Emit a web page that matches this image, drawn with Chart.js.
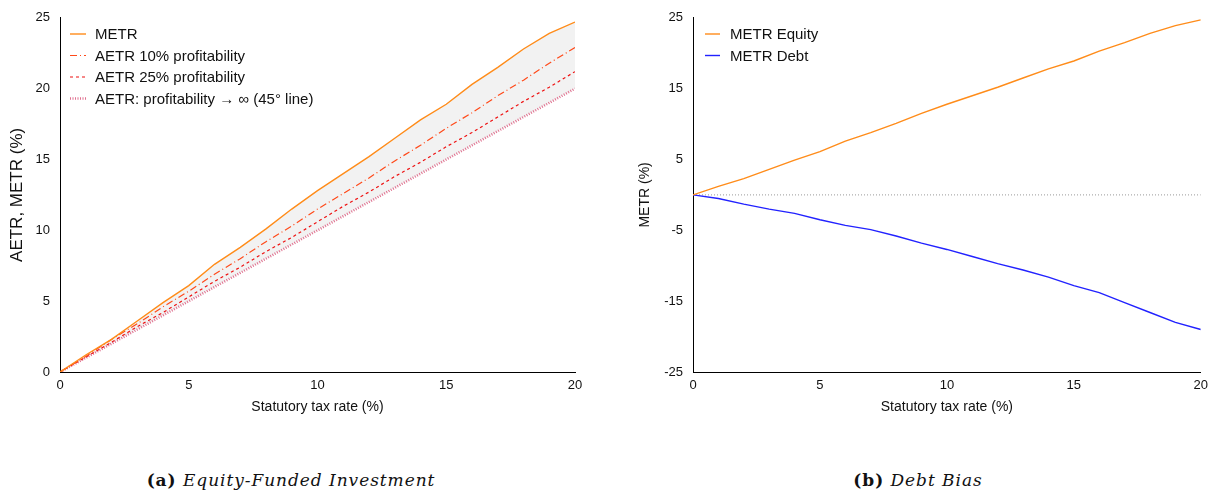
<!DOCTYPE html>
<html>
<head>
<meta charset="utf-8">
<script src="https://cdn.jsdelivr.net/npm/chart.js@4.4.1/dist/chart.umd.min.js"></script>
<style>
  html, body { margin:0; padding:0; background:#fff; width:1214px; height:493px; overflow:hidden; }
  .box { position:absolute; top:0; }
  .cap { position:absolute; top:468px; height:24px; line-height:24px; text-align:center;
         font-family:"DejaVu Serif", serif; font-size:17px; letter-spacing:0.95px; color:#111; white-space:nowrap; }
  .cap b { font-weight:bold; font-style:normal; }
  .cap i { font-style:italic; }
</style>
</head>
<body>
<div class="box" style="left:0;width:600px;height:430px;"><canvas id="c1" width="600" height="430"></canvas></div>
<div class="box" style="left:630px;width:584px;height:430px;"><canvas id="c2" width="584" height="430"></canvas></div>
<div class="cap" style="left:0;width:582px;"><b>(a)</b> <i>Equity-Funded Investment</i></div>
<div class="cap" style="left:630px;width:576px;"><b>(b)</b> <i>Debt Bias</i></div>
<script>
// ---- data ----
const taxRates   = [0,1,2,3,4,5,6,7,8,9,10,11,12,13,14,15,16,17,18,19,20];
const metrEquity = [0,1.2,2.3,3.6,4.9,6.1,7.6,8.8,10.1,11.5,12.8,14.0,15.2,16.5,17.8,18.9,20.3,21.5,22.8,23.9,24.7];
const aetr10     = [0,1.1,2.3,3.4,4.6,5.7,6.9,8.0,9.2,10.3,11.5,12.6,13.7,14.9,16.0,17.2,18.3,19.5,20.6,21.8,22.9];
const aetr25     = [0,1.05,2.1,3.2,4.2,5.3,6.4,7.4,8.5,9.5,10.6,11.7,12.7,13.8,14.8,15.9,16.9,18.0,19.1,20.1,21.2];
const aetrInf    = [0,1,2,3,4,5,6,7,8,9,10,11,12,13,14,15,16,17,18,19,20];
const metrDebt   = [0,-0.5,-1.3,-2.0,-2.6,-3.5,-4.3,-4.9,-5.8,-6.8,-7.7,-8.7,-9.7,-10.6,-11.6,-12.8,-13.8,-15.2,-16.6,-18.0,-19.0];
const zeroLine   = [0,0,0,0,0,0,0,0,0,0,0,0,0,0,0,0,0,0,0,0,0];
const xTicksA    = [0,5,10,15,20];
const yTicksA    = [0,5,10,15,20,25];
const yTicksB    = [-25,-15,-5,5,15,25];

const pts = v => taxRates.map((x,i)=>({x:x, y:v[i]}));
const FONT = '"Liberation Sans", Arial, sans-serif';

const insideLegend = {
  id: 'insideLegend',
  afterDatasetsDraw(chart, args, o) {
    const ctx = chart.ctx;
    ctx.save();
    ctx.font = '15px ' + FONT;
    ctx.textBaseline = 'middle';
    ctx.textAlign = 'left';
    let i = 0;
    chart.data.datasets.forEach(ds => {
      if (!ds.label) return;
      const y = o.y + i * o.spacing;
      ctx.strokeStyle = ds.borderColor;
      ctx.lineWidth = ds.legendWidth || ds.borderWidth;
      ctx.setLineDash(ds.borderDash || []);
      ctx.beginPath(); ctx.moveTo(o.x, y); ctx.lineTo(o.x + o.len, y); ctx.stroke();
      ctx.setLineDash([]);
      ctx.fillStyle = '#111';
      ctx.fillText(ds.label, o.x + o.len + o.gap, y + 1);
      i++;
    });
    ctx.restore();
  }
};

function axes(xTicks, yTicks, yMin, yMax, yTitle, yWidth, yTitleSize) {
  return {
    x: {
      type:'linear', min:0, max:20,
      afterBuildTicks: s => { s.ticks = xTicks.map(v=>({value:v})); },
      afterFit: s => { s.height = 58; },
      grid:{display:false, drawTicks:false},
      border:{display:true, color:'#000', width:1},
      ticks:{font:{family:FONT,size:13}, color:'#111', padding:6, maxRotation:0},
      title:{display:true, text:'Statutory tax rate (%)', font:{family:FONT,size:14}, color:'#111', padding:{top:0,bottom:14}}
    },
    y: {
      type:'linear', min:yMin, max:yMax,
      afterBuildTicks: s => { s.ticks = yTicks.map(v=>({value:v})); },
      afterFit: s => { s.width = yWidth; },
      grid:{display:false, drawTicks:false},
      border:{display:true, color:'#000', width:1},
      ticks:{font:{family:FONT,size:13}, color:'#111', padding:10},
      title:{display:true, text:yTitle, font:{family:FONT,size:yTitleSize}, color:'#111', padding:{top:7,bottom:0}}
    }
  };
}

new Chart(document.getElementById('c1'), {
  type:'line',
  data:{ datasets:[
    {label:'METR', data:pts(metrEquity), borderColor:'#ff8c1a', borderWidth:1.4, pointRadius:0,
     fill:3, backgroundColor:'#f2f2f2', tension:0},
    {label:'AETR 10% profitability', data:pts(aetr10), borderColor:'#ff4a1a', borderWidth:1.2,
     borderDash:[7,3,1,3], pointRadius:0, fill:false},
    {label:'AETR 25% profitability', data:pts(aetr25), borderColor:'#ee1111', borderWidth:1.2,
     borderDash:[3,3], pointRadius:0, fill:false},
    {label:'AETR: profitability \u2192 \u221e (45\u00b0 line)', data:pts(aetrInf), borderColor:'#e0708f', borderWidth:2.5,
     borderDash:[1,1.5], pointRadius:0, fill:false}
  ]},
  options:{
    responsive:false, animation:false, devicePixelRatio:1,
    layout:{padding:{left:0, right:25, top:15, bottom:0}},
    scales: axes(xTicksA, yTicksA, 0, 25, 'AETR, METR (%)', 60, 17),
    plugins:{ legend:{display:false}, tooltip:{enabled:false},
      filler:{drawTime:'beforeDatasetsDraw'},
      insideLegend:{x:70, y:34, spacing:21.5, len:16, gap:9} }
  },
  plugins:[insideLegend]
});

new Chart(document.getElementById('c2'), {
  type:'line',
  data:{ datasets:[
    {label:'METR Equity', data:pts(metrEquity), borderColor:'#ff8c1a', borderWidth:1.4, pointRadius:0, fill:false},
    {label:'METR Debt', data:pts(metrDebt), borderColor:'#2222ff', borderWidth:1.4, pointRadius:0, fill:false},
    {label:'', data:pts(zeroLine), borderColor:'#999999', borderWidth:1, borderDash:[1,2], pointRadius:0, fill:false}
  ]},
  options:{
    responsive:false, animation:false, devicePixelRatio:1,
    layout:{padding:{left:0, right:10, top:15, bottom:0}},
    scales: axes(xTicksA, yTicksB, -25, 25, 'METR (%)', 63, 14),
    plugins:{ legend:{display:false}, tooltip:{enabled:false},
      insideLegend:{x:75, y:34, spacing:21.5, len:15, gap:10} }
  },
  plugins:[insideLegend]
});
</script>
</body>
</html>
